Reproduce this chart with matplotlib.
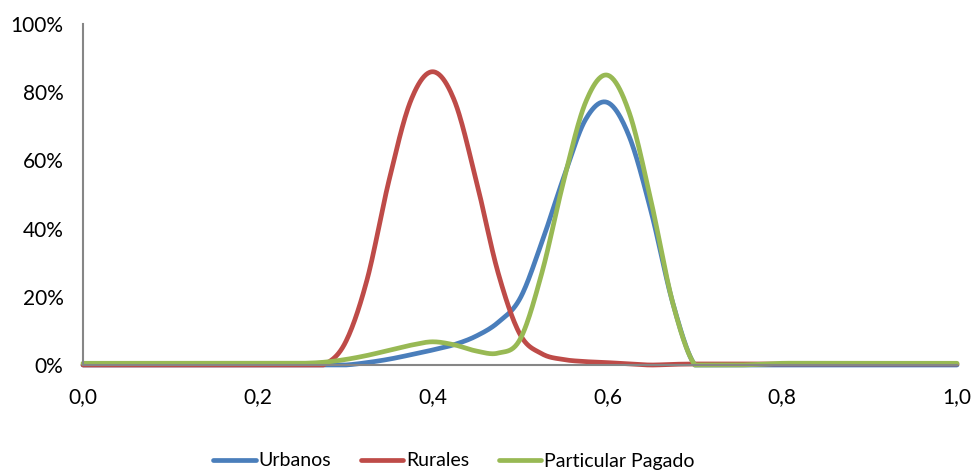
import numpy as np
import matplotlib
matplotlib.use('Agg')
import matplotlib.pyplot as plt
from matplotlib.ticker import FuncFormatter

plt.rcParams['font.family'] = ['Lato', 'DejaVu Sans']

# x positions of the density estimates
x = [0.0, 0.025, 0.05, 0.075, 0.1, 0.125, 0.15, 0.175, 0.2, 0.225,
     0.25, 0.275, 0.3, 0.325, 0.35, 0.375, 0.4, 0.425, 0.45, 0.475,
     0.5, 0.525, 0.55, 0.575, 0.6, 0.625, 0.65, 0.675, 0.7, 0.725,
     0.75, 0.775, 0.8, 0.825, 0.85, 0.875, 0.9, 0.925, 0.95, 0.975, 1.0]

# values in percent
urbanos = [0, 0, 0, 0, 0, 0, 0, 0, 0, 0,
           0, 0, 0, 0.7, 1.7, 3, 4.4, 6, 8.5, 12.5,
           19.5, 36, 55, 72, 77, 67, 45, 18, 0, 0,
           0, 0, 0, 0, 0, 0, 0, 0, 0, 0, 0]
rurales = [0, 0, 0, 0, 0, 0, 0, 0, 0, 0,
           0, 0, 6.5, 25, 54, 77.5, 86, 77.5, 54, 27,
           9, 3.3, 1.6, 1, 0.7, 0.3, 0, 0.2, 0.3, 0.3,
           0.3, 0.3, 0.3, 0.3, 0.3, 0.3, 0.3, 0.3, 0.3, 0.3, 0.3]
pagado = [0.5, 0.5, 0.5, 0.5, 0.5, 0.5, 0.5, 0.5, 0.5, 0.5,
          0.5, 0.8, 1.6, 2.8, 4.3, 5.8, 6.8, 5.9, 4.1, 3.5,
          7.5, 27, 54, 77, 85, 74, 48, 18, 0, 0,
          0, 0.2, 0.5, 0.5, 0.5, 0.5, 0.5, 0.5, 0.5, 0.5, 0.5]

series = [('Urbanos', urbanos, '#4A7EBB'),
          ('Rurales', rurales, '#BE4B48'),
          ('Particular Pagado', pagado, '#98B954')]


def smooth(xs, ys, n=24):
    # Excel-style smoothed line (cubic Bezier through every point)
    pts = np.column_stack([xs, ys]).astype(float)
    padded = np.vstack([pts[0], pts, pts[-1]])
    t = np.linspace(0, 1, n)[:, None]
    out = []
    for i in range(len(pts) - 1):
        p0, p1, p2, p3 = padded[i], padded[i + 1], padded[i + 2], padded[i + 3]
        c1 = p1 + (p2 - p0) / 6
        c2 = p2 - (p3 - p1) / 6
        seg = (1 - t) ** 3 * p1 + 3 * (1 - t) ** 2 * t * c1 + 3 * (1 - t) * t ** 2 * c2 + t ** 3 * p2
        out.append(seg)
    return np.vstack(out)


fig = plt.figure(figsize=(9.72, 4.70), dpi=100)
ax = fig.add_axes([83 / 972, 1 - 365 / 470, 874 / 972, 341 / 470])

for name, vals, col in series:
    s = smooth(x, vals)
    # plot area cuts off the overshoot below 0
    ax.plot(s[:, 0], np.clip(s[:, 1], 0, None), color=col, lw=3.4, label=name,
            solid_capstyle='round', clip_on=False)

ax.set_xlim(0, 1)
ax.set_ylim(0, 100)
ax.set_xticks([0, 0.2, 0.4, 0.6, 0.8, 1.0])
ax.set_yticks([0, 20, 40, 60, 80, 100])
ax.xaxis.set_major_formatter(FuncFormatter(lambda v, p: f'{v:.1f}'.replace('.', ',')))
ax.yaxis.set_major_formatter(FuncFormatter(lambda v, p: f'{v:.0f}%'))
ax.tick_params(axis='both', length=0, labelsize=15, colors='black')
ax.tick_params(axis='y', pad=14)
ax.tick_params(axis='x', pad=16)

for side in ['top', 'right']:
    ax.spines[side].set_visible(False)
for side in ['left', 'bottom']:
    ax.spines[side].set_color('#868686')
    ax.spines[side].set_linewidth(1.5)

fig.legend(loc='center', bbox_to_anchor=(0.467, 1 - 461 / 470), ncol=3,
           frameon=False, fontsize=14, handlelength=2.2, handletextpad=0.15,
           columnspacing=1.5, borderaxespad=0)

fig.savefig('out.png', dpi=100)
